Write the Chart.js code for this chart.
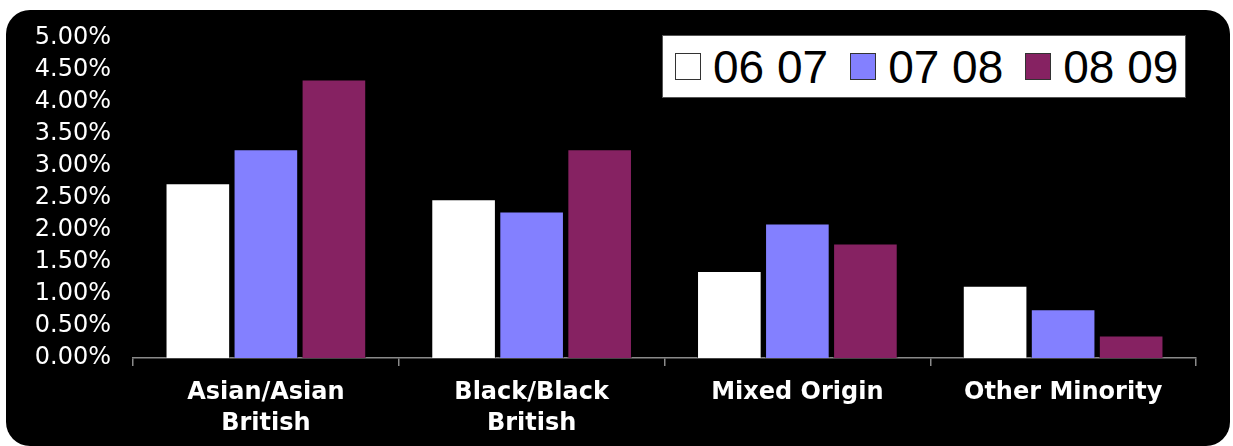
<!DOCTYPE html>
<html><head><meta charset="utf-8">
<script src="https://cdn.jsdelivr.net/npm/chart.js@4.4.0/dist/chart.umd.min.js"></script>
<style>
html,body{margin:0;padding:0;background:#fff;width:1233px;height:446px;overflow:hidden}
#bg{position:absolute;left:6px;top:10px;width:1224px;height:436px;background:#000;border-radius:24px}
#wrap{position:absolute;left:0;top:0;width:1233px;height:446px}
#legend{position:absolute;left:662px;top:35px;width:524px;height:63px;background:#fff;border:1px solid #555;box-sizing:border-box;display:flex;align-items:center;font-family:"Liberation Sans",sans-serif;font-size:46px;color:#000;padding-left:12px;white-space:nowrap}
#legend .sw{width:26px;height:27px;border:1px solid #333;box-sizing:border-box;margin-right:12px;flex:none}
#legend .it{display:flex;align-items:center;margin-right:22px}
</style>
</head><body>
<div id="bg"></div>
<div id="wrap"><canvas id="c" width="1233" height="446"></canvas></div>
<div id="legend"></div>
<script>
const categories = [["Asian/Asian","British"],["Black/Black","British"],"Mixed Origin","Other Minority"];
const seriesNames = ["06 07","07 08","08 09"];
const s0607 = [2.73, 2.48, 1.36, 1.13];
const s0708 = [3.26, 2.29, 2.10, 0.76];
const s0809 = [4.35, 3.26, 1.79, 0.35];
const colors = ["#FFFFFF","#8380FF","#862262"];
const yTicks = [0,0.5,1,1.5,2,2.5,3,3.5,4,4.5,5];

const seriesValues = [s0607, s0708, s0809];
const datasets = seriesNames.map((n,i)=>({
  label:n, data:seriesValues[i], backgroundColor:colors[i],
  borderColor:'rgba(0,0,0,0.45)', borderWidth:1,
  categoryPercentage:0.768, barPercentage:0.95
}));

new Chart(document.getElementById('c'),{
  type:'bar',
  data:{labels:categories,datasets},
  options:{
    responsive:false,animation:false,
    layout:{padding:{left:0,top:38,right:37,bottom:0}},
    plugins:{legend:{display:false},tooltip:{enabled:false}},
    scales:{
      x:{
        grid:{offset:true,drawOnChartArea:false,color:'#8a8a8a',lineWidth:1.5,tickLength:8},
        border:{color:'#8a8a8a',width:1.5},
        ticks:{color:'#fff',font:{family:'DejaVu Sans',size:24,weight:'bold',lineHeight:1.3},padding:11,maxRotation:0,autoSkip:false},
        afterFit:s=>{s.height=88;}
      },
      y:{
        min:0,max:5,
        afterBuildTicks:s=>{s.ticks=yTicks.map(v=>({value:v}));},
        grid:{display:false,drawTicks:false},
        border:{display:false},
        ticks:{color:'#fff',font:{family:'DejaVu Sans',size:24},padding:22,autoSkip:false,
          callback:v=>Number(v).toFixed(2)+'%'},
        afterFit:s=>{s.width=133;}
      }
    }
  }
});

const lg=document.getElementById('legend');
seriesNames.forEach((n,i)=>{
  const it=document.createElement('div');it.className='it';
  const sw=document.createElement('div');sw.className='sw';sw.style.background=colors[i];
  const t=document.createElement('span');t.textContent=n;
  it.appendChild(sw);it.appendChild(t);lg.appendChild(it);
});
</script>
</body></html>
